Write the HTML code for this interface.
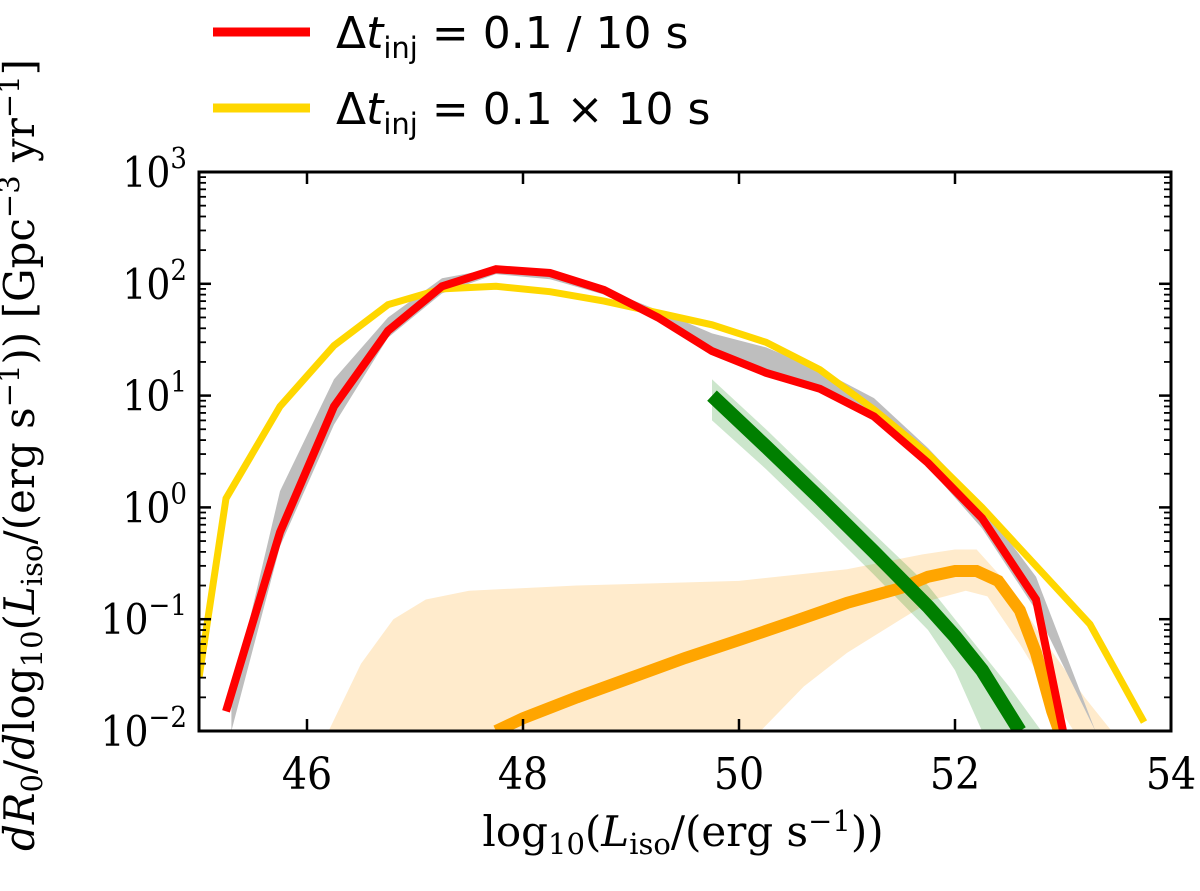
<!DOCTYPE html>
<html><head><meta charset="utf-8"><style>
body{margin:0;background:#fff;}
svg{display:block;font-family:"DejaVu Serif","Liberation Serif",serif;}
.tk{font-family:"DejaVu Serif Condensed","DejaVu Serif","Liberation Serif",serif;}
</style></head><body>
<svg id="chart" width="1200" height="891" viewBox="0 0 1200 891" xmlns="http://www.w3.org/2000/svg">
<g id="bands"></g><g id="lines"></g><g id="axes"></g>
<g>
<line x1="213" y1="32" x2="310" y2="32" stroke="#ff0000" stroke-width="9"/>
<text x="336" y="48" font-size="44" font-family="DejaVu Sans,sans-serif">Δ<tspan font-style="italic">t</tspan><tspan font-size="29" dy="10">inj</tspan><tspan dy="-10"> = 0.1 / 10 s</tspan></text>
<line x1="213" y1="108" x2="310" y2="108" stroke="#ffd700" stroke-width="9"/>
<text x="336" y="124" font-size="44" font-family="DejaVu Sans,sans-serif">Δ<tspan font-style="italic">t</tspan><tspan font-size="29" dy="10">inj</tspan><tspan dy="-10"> = 0.1 × 10 s</tspan></text>
</g>
<text x="683" y="846" font-size="42" text-anchor="middle">log<tspan font-size="29" dy="8">10</tspan><tspan dy="-8">(</tspan><tspan font-style="italic">L</tspan><tspan font-size="29" dy="8">iso</tspan><tspan dy="-8">/(erg s</tspan><tspan font-size="29" dy="-15">−1</tspan><tspan dy="15">))</tspan></text>
<text transform="translate(34,455) rotate(-90)" font-size="42" text-anchor="middle"><tspan font-style="italic">dR</tspan><tspan font-size="29" dy="8">0</tspan><tspan dy="-8">/</tspan><tspan font-style="italic">d</tspan><tspan>log</tspan><tspan font-size="29" dy="8">10</tspan><tspan dy="-8">(</tspan><tspan font-style="italic">L</tspan><tspan font-size="29" dy="8">iso</tspan><tspan dy="-8">/(erg s</tspan><tspan font-size="29" dy="-15">−1</tspan><tspan dy="15">))  [Gpc</tspan><tspan font-size="29" dy="-15">−3</tspan><tspan dy="15"> yr</tspan><tspan font-size="29" dy="-15">−1</tspan><tspan dy="15">]</tspan></text>
</svg>
<script>
const xTicks=[46,48,50,52,54];
const yTickExp=[-2,-1,0,1,2,3];
const redX=[45.25,45.75,46.25,46.75,47.25,47.75,48.25,48.75,49.25,49.75,50.25,50.75,51.25,51.75,52.25,52.75,53.0];
const redY=[0.015,0.6,8,38,95,135,125,88,50,25,16,11.5,6.5,2.5,0.8,0.15,0.01];
const yelX=[45.0,45.25,45.75,46.25,46.75,47.25,47.75,48.25,48.75,49.25,49.75,50.25,50.75,51.25,51.75,52.25,52.75,53.25,53.75];
const yelY=[0.03,1.2,8,28,65,90,95,85,70,55,43,30,17,7.5,3,1.0,0.3,0.09,0.012];
const grayX=[45.3,45.75,46.25,46.75,47.25,47.75,48.25,48.75,49.25,49.75,50.25,50.75,51.25,51.75,52.25,52.75,53.3];
const grayHi=[0.02,1.4,14,50,112,138,120,90,58,36,27,17,9.5,3.4,1.05,0.24,0.01];
const grayLo=[0.01,0.45,5.5,33,82,122,110,80,46,24,17,11.5,6.5,2.3,0.65,0.12,0.01];
const greenX=[49.75,50.25,50.75,51.25,51.75,52.0,52.25,52.6];
const greenY=[10,3.5,1.2,0.4,0.13,0.07,0.035,0.01];
const greenBandX=[49.75,50.25,50.75,51.25,51.75,52.0,52.25,52.5,52.8];
const greenHi=[14,5,1.7,0.58,0.2,0.1,0.05,0.025,0.01];
const greenLo=[6,2.2,0.75,0.25,0.08,0.035,0.01,0.01,0.01];
const orangeX=[47.75,48.0,48.5,49.0,49.5,50.0,50.5,51.0,51.5,51.75,52.0,52.2,52.4,52.6,52.75,52.9,53.0];
const orangeY=[0.01,0.013,0.02,0.03,0.045,0.065,0.095,0.14,0.19,0.24,0.27,0.27,0.22,0.12,0.05,0.015,0.008];
const obUpX=[46.2,46.5,46.8,47.1,47.5,48.5,50.0,51.0,51.7,52.0,52.2,52.5,52.8,53.2,53.45];
const obUpY=[0.01,0.04,0.1,0.15,0.18,0.2,0.22,0.28,0.38,0.42,0.42,0.2,0.07,0.02,0.01];
const obLoX=[50.2,50.6,51.0,51.5,51.8,52.1,52.3,52.6,52.9,53.1];
const obLoY=[0.01,0.025,0.05,0.1,0.15,0.18,0.16,0.06,0.02,0.01];

const X0=199,X1=1171,Y0=172,Y1=731;
const xs=v=>X0+(v-45)/9*(X1-X0);
const ys=v=>{const l=Math.log10(Math.max(v,1e-3));return Y0+(3-l)/5*(Y1-Y0);};
const NS='http://www.w3.org/2000/svg';
const mk=(p,t,a)=>{const e=document.createElementNS(NS,t);for(const k in a)e.setAttribute(k,a[k]);p.appendChild(e);return e;};
const clip=mk(document.getElementById('chart'),'clipPath',{id:'pc'});
mk(clip,'rect',{x:X0,y:Y0,width:X1-X0,height:Y1-Y0});
const bands=document.getElementById('bands'),lines=document.getElementById('lines'),axes=document.getElementById('axes');
bands.setAttribute('clip-path','url(#pc)');lines.setAttribute('clip-path','url(#pc)');
const pts=(X,Y)=>X.map((x,i)=>xs(x).toFixed(1)+','+ys(Y[i]).toFixed(1));
function band(xu,yu,xl,yl,fill,name){
  const p=pts(xu,yu).concat(pts(xl,yl).reverse());
  const e=mk(bands,'polygon',{points:p.join(' '),fill:fill});
  
  
}
function line(X,Y,col,w,name){
  const e=mk(lines,'polyline',{points:pts(X,Y).join(' '),fill:'none',stroke:col,'stroke-width':w,'stroke-linejoin':'miter'});
  
  
}
band(obUpX,obUpY,obLoX,obLoY,'#ffebcc','orange-band');
band(greenBandX,greenHi,greenBandX,greenLo,'rgba(0,128,0,0.2)','green-band');
band(grayX,grayHi,grayX,grayLo,'#bebebe','gray-band');
line(orangeX,orangeY,'#ffa500',12,'orange-line');
line(greenX,greenY,'#007f00',14,'green-line');
line(yelX,yelY,'#ffd700',7,'yellow-line');
line(redX,redY,'#ff0000',8,'red-line');
const fr=mk(axes,'rect',{x:X0,y:Y0,width:X1-X0,height:Y1-Y0,fill:'none',stroke:'#000','stroke-width':3});


xTicks.forEach(t=>{
  const x=xs(t);
  mk(axes,'line',{x1:x,y1:Y1,x2:x,y2:Y1-12,stroke:'#000','stroke-width':2.5});
  mk(axes,'line',{x1:x,y1:Y0,x2:x,y2:Y0+12,stroke:'#000','stroke-width':2.5});
  const tx=mk(axes,'text',{x:x,y:Y1+58,'font-size':44,'text-anchor':'middle','class':'tk'});
  tx.textContent=t;
  
  
});
yTickExp.forEach(e=>{
  const y=ys(Math.pow(10,e));
  [X0,X1].forEach((xx,s)=>mk(axes,'line',{x1:xx,y1:y,x2:xx+(s?-12:12),y2:y,stroke:'#000','stroke-width':2.5}));
  if(e<3)for(let m=2;m<10;m++){const yy=ys(m*Math.pow(10,e));
    [X0,X1].forEach((xx,s)=>mk(axes,'line',{x1:xx,y1:yy,x2:xx+(s?-7:7),y2:yy,stroke:'#000','stroke-width':1.8}));}
  const tx=mk(axes,'text',{x:X0-12,y:y+15,'font-size':42,'text-anchor':'end','class':'tk'});
  tx.innerHTML='10<tspan font-size="29" dy="-19">'+(e<0?'−'+(-e):e)+'</tspan>';
  
  
});
</script>
</body></html>
